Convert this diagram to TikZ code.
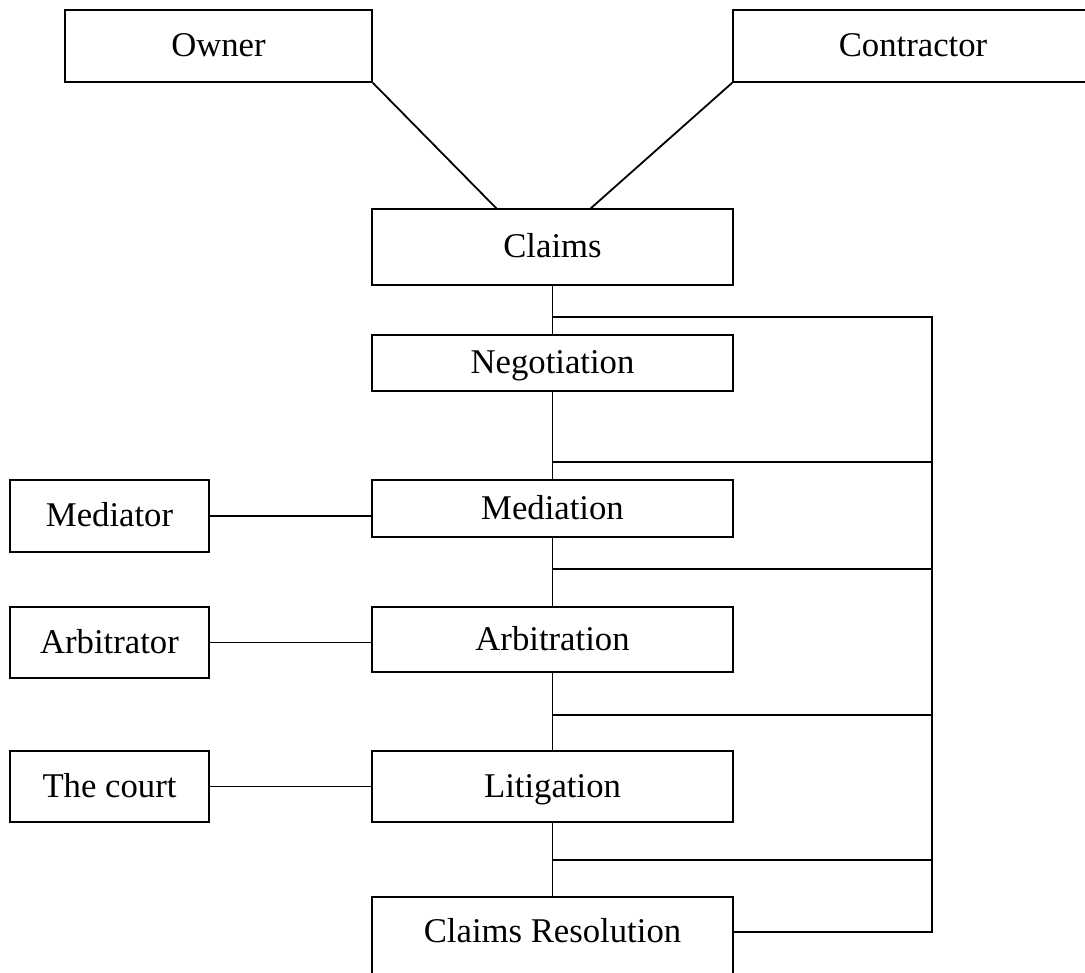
\documentclass[tikz,border=0pt]{standalone}
\usepackage{fontspec}
\setmainfont{Liberation Serif}
\usetikzlibrary{calc}
\begin{document}
\begin{tikzpicture}[x=1pt,y=-1pt,
  box/.style={draw,line width=1.8pt,inner sep=0pt,text height=27pt,text depth=6pt,
    font=\fontsize{34.7}{40}\selectfont},
  conn/.style={line width=1.8pt}]
\useasboundingbox (0,0) rectangle (1085,973);
% top parties
\node[box,minimum width=307,minimum height=72] (owner) at (218.5,46) {Owner};
\node[box,minimum width=360,minimum height=72] (contractor) at (913,46) {Contractor};
% main chain
\node[box,minimum width=361,minimum height=76] (claims) at (552.5,247) {Claims};
\node[box,minimum width=361,minimum height=56] (negotiation) at (552.5,363) {Negotiation};
\node[box,minimum width=361,minimum height=57] (mediation) at (552.5,508.5) {Mediation};
\node[box,minimum width=361,minimum height=65] (arbitration) at (552.5,639.5) {Arbitration};
\node[box,minimum width=361,minimum height=71] (litigation) at (552.5,786.5) {Litigation};
\node[box,minimum width=361,anchor=north,text height=46pt,text depth=150pt] (cr) at (552.5,896) {Claims Resolution};
% side boxes
\node[box,minimum width=199,minimum height=72] (mediator) at (109.5,516) {Mediator};
\node[box,minimum width=199,minimum height=71] (arbitrator) at (109.5,642.5) {Arbitrator};
\node[box,minimum width=199,minimum height=71] (court) at (109.5,786.5) {The court};
% connectors from parties
\coordinate (oc) at (497,209);
\coordinate (cc) at (590,209);
\draw[conn] (owner.south east) -- (oc);
\draw[conn] (contractor.south west) -- (cc);
% central chain
\draw[conn] (claims.south) -- (negotiation.north);
\draw[conn] (negotiation.south) -- (mediation.north);
\draw[conn] (mediation.south) -- (arbitration.north);
\draw[conn] (arbitration.south) -- (litigation.north);
\draw[conn] (litigation.south) -- (cr.north);
% bus
\coordinate (j1) at (552.5,317); \coordinate (r1) at (932,317);
\coordinate (j2) at (552.5,462); \coordinate (r2) at (932,462);
\coordinate (j3) at (552.5,569); \coordinate (r3) at (932,569);
\coordinate (j4) at (552.5,715); \coordinate (r4) at (932,715);
\coordinate (j5) at (552.5,860); \coordinate (r5) at (932,860);
\coordinate (rE) at (932,932);
\draw[conn] (j1) -- (r1) -- (rE) -- (rE -| cr.east);
\draw[conn] (j2) -- (r2);
\draw[conn] (j3) -- (r3);
\draw[conn] (j4) -- (r4);
\draw[conn] (j5) -- (r5);
% side links
\draw[conn] (mediator.east) -- (mediator.east -| mediation.west);
\draw[conn] (arbitrator.east) -- (arbitrator.east -| arbitration.west);
\draw[conn] (court.east) -- (court.east -| litigation.west);
\end{tikzpicture}
\end{document}
